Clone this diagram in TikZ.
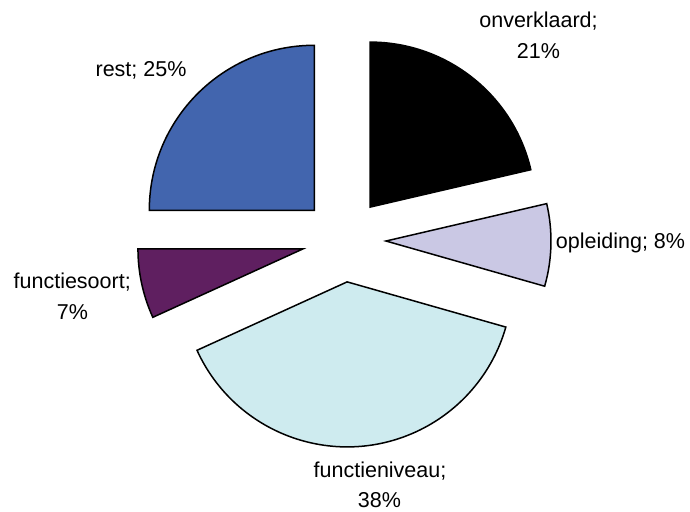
\documentclass[tikz,border=0pt]{standalone}
\usepackage{fontspec}
\setmainfont{Liberation Sans}
\usetikzlibrary{calc}
\definecolor{restblue}{RGB}{66,101,174}
\definecolor{oplav}{RGB}{202,200,228}
\definecolor{fncyan}{RGB}{206,235,239}
\definecolor{fspurple}{RGB}{95,31,96}
\begin{document}
\begin{tikzpicture}[x=1pt,y=1pt,
  wedge/.style={draw=black, line width=1.5pt, line join=miter},
  lbl/.style={anchor=base, inner sep=0pt, font=\fontsize{21.5}{24}\selectfont}]
\useasboundingbox (0,0) rectangle (690,511);
\coordinate (C) at (344,271);
\coordinate (Aonv) at ($(C)+(51.55:42)$);
\coordinate (Aopl) at ($(C)+(-1.4:42)$);
\coordinate (Afn) at ($(C)+(274.3:42)$);
\coordinate (Afs) at ($(C)+(192.25:42)$);
\coordinate (Arest) at ($(C)+(135:42)$);
% onverklaard 13.1 -> 90
\draw[wedge, fill=black] (Aonv) -- ++(13.1:165) arc[start angle=13.1, end angle=90, radius=165] -- cycle;
% opleiding -15.9 -> 13.1
\draw[wedge, fill=oplav] (Aopl) -- ++(-15.9:165) arc[start angle=-15.9, end angle=13.1, radius=165] -- cycle;
% functieniveau 204.5 -> 344.1
\draw[wedge, fill=fncyan] (Afn) -- ++(204.5:165) arc[start angle=204.5, end angle=344.1, radius=165] -- cycle;
% functiesoort 180 -> 204.5
\draw[wedge, fill=fspurple] (Afs) -- ++(180:165) arc[start angle=180, end angle=204.5, radius=165] -- cycle;
% rest 90 -> 180
\draw[wedge, fill=restblue] (Arest) -- ++(90:165) arc[start angle=90, end angle=180, radius=165] -- cycle;
% labels
\node[lbl] (onv1) at (538.5,483) {onverklaard;};
\node[lbl] (onv2) at (538.5,452) {21\%};
\node[lbl] (opl) at (620.5,262.7) {opleiding; 8\%};
\node[lbl] (fs1) at (72.2,222.7) {functiesoort;};
\node[lbl] (fs2) at (72.5,191.7) {7\%};
\node[lbl] (fn1) at (380,34) {functieniveau;};
\node[lbl] (fn2) at (379.5,4) {38\%};
\node[lbl] (rest) at (141,434.3) {rest; 25\%};
\end{tikzpicture}
\end{document}
